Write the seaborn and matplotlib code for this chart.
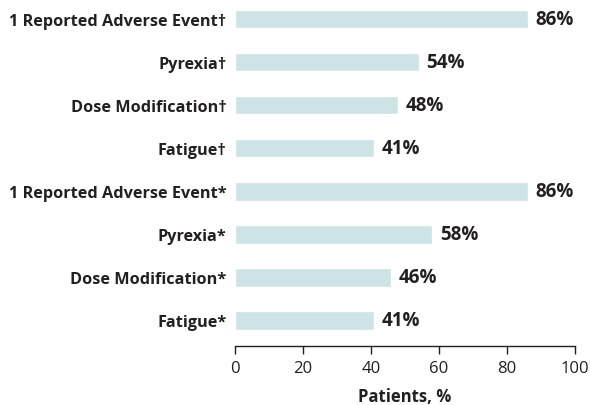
import matplotlib
matplotlib.use("Agg")
import matplotlib.pyplot as plt
import seaborn as sns
import pandas as pd

categories = [
    "1 Reported Adverse Event\u2020",
    "Pyrexia\u2020",
    "Dose Modification\u2020",
    "Fatigue\u2020",
    "1 Reported Adverse Event*",
    "Pyrexia*",
    "Dose Modification*",
    "Fatigue*",
]
values = [86, 54, 48, 41, 86, 58, 46, 41]
xticks = [0, 20, 40, 60, 80, 100]

sns.set_theme(style="white")
plt.rcParams["font.family"] = ["Open Sans", "DejaVu Sans"]
text_color = "#231f20"

df = pd.DataFrame({"cat": categories, "val": values})
fig = plt.figure(figsize=(5.9, 4.06), dpi=100)
ax = fig.add_axes([0.398, 0.145, 0.577, 0.853])
sns.barplot(data=df, x="val", y="cat", orient="h", color="#cde3e6",
            saturation=1, width=0.43, ax=ax)
ax.set_ylim(7.6, -0.45)
ax.set_xlim(0, 100)
ax.set_xticks(xticks)
ax.set_xticklabels([str(t) for t in xticks], fontsize=12, color=text_color)
for lab in ax.get_yticklabels():
    lab.set_fontweight("bold")
    lab.set_fontsize(11.7)
    lab.set_color(text_color)
ax.tick_params(axis="y", length=0, pad=6)
ax.tick_params(axis="x", length=6, width=1, color=text_color, direction="out", pad=4, bottom=True)
for s in ["top", "right", "left"]:
    ax.spines[s].set_visible(False)
ax.spines["bottom"].set_color(text_color)
ax.spines["bottom"].set_linewidth(1)
ax.set_ylabel("")
ax.set_xlabel("Patients, %", fontsize=12, fontweight="bold", color=text_color, labelpad=8)
for i, v in enumerate(values):
    ax.text(v + 2.2, i, f"{v}%", va="center", ha="left", fontsize=13.5,
            fontweight="bold", color=text_color)
fig.savefig("out.png", dpi=100)
